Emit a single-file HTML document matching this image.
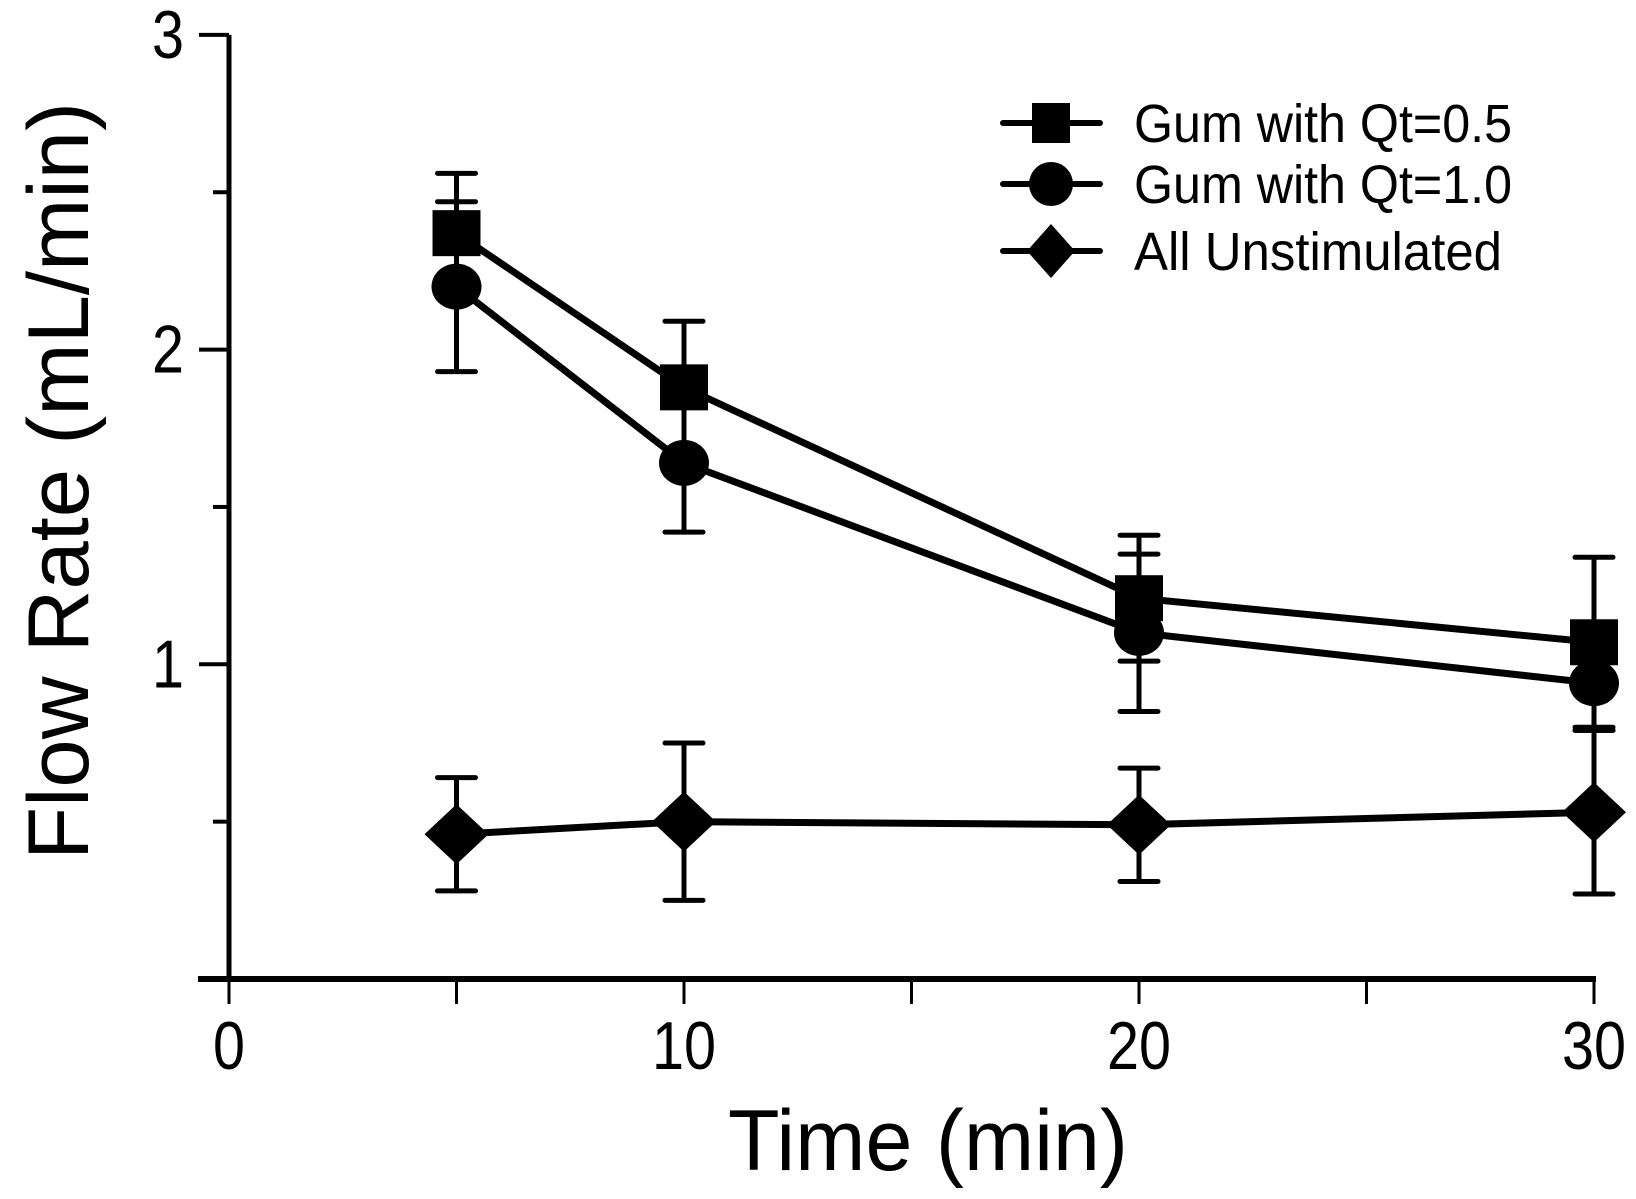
<!DOCTYPE html>
<html><head><meta charset="utf-8"><style>html,body{margin:0;padding:0;background:#fff;}svg{display:block;}</style></head>
<body>
<svg id="chart" width="1636" height="1199" viewBox="0 0 1636 1199" xmlns="http://www.w3.org/2000/svg" font-family="Liberation Sans, Arial, sans-serif">
<rect width="1636" height="1199" fill="#fff"/>
<g id="axes"></g>
<g id="series"></g>
<g id="legend"></g>
</svg>
<script>
const xTicks=[0,10,20,30];
const yTicks=[1,2,3];
const times=[5,10,20,30];
const sqVals=[2.37,1.88,1.21,1.07];
const sqErr=[0.19,0.21,0.20,0.27];
const ciVals=[2.20,1.64,1.10,0.94];
const ciErr=[0.27,0.22,0.25,0.15];
const diVals=[0.46,0.50,0.49,0.53];
const diErr=[0.18,0.25,0.18,0.26];
const legendLabels=["Gum with Qt=0.5","Gum with Qt=1.0","All Unstimulated"];

const NS="http://www.w3.org/2000/svg";
const X=v=>229+v*45.5;
const Y=v=>979-v*314.7;
function mk(tag,attrs,parent){const e=document.createElementNS(NS,tag);for(const k in attrs)e.setAttribute(k,attrs[k]);parent.appendChild(e);return e;}
const axes=document.getElementById('axes'),series=document.getElementById('series'),legend=document.getElementById('legend');

let e=mk('line',{x1:X(0),y1:Y(3),x2:X(0),y2:Y(0),stroke:'#000','stroke-width':5},axes);


e=mk('line',{x1:198,y1:Y(0),x2:X(30)+2,y2:Y(0),stroke:'#000','stroke-width':6},axes);


for(let v=0;v<=30;v+=5){
  e=mk('line',{x1:X(v),y1:Y(0),x2:X(v),y2:Y(0)+25,stroke:'#000','stroke-width':3},axes);
  
  
}
xTicks.forEach(v=>{
  const s=String(v);
  e=mk('text',{x:X(v),y:1069,'text-anchor':'middle','font-size':68,textLength:s.length*32,lengthAdjust:'spacingAndGlyphs'},axes);e.textContent=s;
  
  
});
for(let v=0.5;v<=3;v+=0.5){
  const major=Math.abs(v-Math.round(v))<1e-6;
  e=mk('line',{x1:major?X(0)-30:X(0)-16,y1:Y(v),x2:X(0),y2:Y(v),stroke:'#000','stroke-width':4},axes);
  
  
}
yTicks.forEach(v=>{
  e=mk('text',{x:184,y:Y(v)+23,'text-anchor':'end','font-size':68,textLength:32,lengthAdjust:'spacingAndGlyphs'},axes);e.textContent=v;
  
  
});
e=mk('text',{x:928,y:1170,'text-anchor':'middle','font-size':86,textLength:400,lengthAdjust:'spacingAndGlyphs'},axes);e.textContent='Time (min)';


e=mk('text',{x:0,y:0,'text-anchor':'middle','font-size':86,textLength:758,lengthAdjust:'spacingAndGlyphs',transform:'translate(88,481) rotate(-90)'},axes);e.textContent='Flow Rate (mL/min)';



function marker(type,cx,cy,parent){
  if(type==='sq') return mk('rect',{x:cx-24,y:cy-23,width:48,height:46,fill:'#000'},parent);
  if(type==='ci') return mk('ellipse',{cx:cx,cy:cy,rx:25,ry:23,fill:'#000'},parent);
  return mk('polygon',{points:`${cx},${cy-30} ${cx+32},${cy} ${cx},${cy+30} ${cx-32},${cy}`,fill:'#000'},parent);
}
function drawSeries(vals,errs,type,name){
  const g=mk('g',{},series);
  
  
  const pts=times.map((t,i)=>X(t)+','+Y(vals[i])).join(' ');
  e=mk('polyline',{points:pts,fill:'none',stroke:'#000','stroke-width':7},g);
  
  
  times.forEach((t,i)=>{
    const x=X(t),y1=Y(vals[i]+errs[i]),y2=Y(vals[i]-errs[i]);
    e=mk('path',{d:`M${x},${y1}V${y2}M${x-19},${y1}H${x+19}M${x-19},${y2}H${x+19}`,stroke:'#000','stroke-width':5,fill:'none','stroke-linecap':'round'},g);
    
    
    e=marker(type,x,Y(vals[i]),g);
    
    
  });
}
drawSeries(diVals,diErr,'di','unstimulated');
drawSeries(ciVals,ciErr,'ci','qt-1-0');
drawSeries(sqVals,sqErr,'sq','qt-0-5');

const types=['sq','ci','di'];const ly=[123,184,251];
legendLabels.forEach((lab,i)=>{
  const g=mk('g',{},legend);
  
  
  mk('line',{x1:1003,y1:ly[i],x2:1100,y2:ly[i],stroke:'#000','stroke-width':6,'stroke-linecap':'round'},g);
  const m=types[i];
  if(m==='sq') mk('rect',{x:1032,y:ly[i]-20,width:38,height:40,fill:'#000'},g);
  else if(m==='ci') mk('ellipse',{cx:1051,cy:ly[i],rx:22,ry:22,fill:'#000'},g);
  else mk('polygon',{points:`1051,${ly[i]-27} 1075,${ly[i]} 1051,${ly[i]+27} 1027,${ly[i]}`,fill:'#000'},g);
  const t=mk('text',{x:1134,y:ly[i]+19,'font-size':54,textLength:[378,378,368][i],lengthAdjust:'spacingAndGlyphs'},g);t.textContent=lab;
});
</script>
</body></html>
